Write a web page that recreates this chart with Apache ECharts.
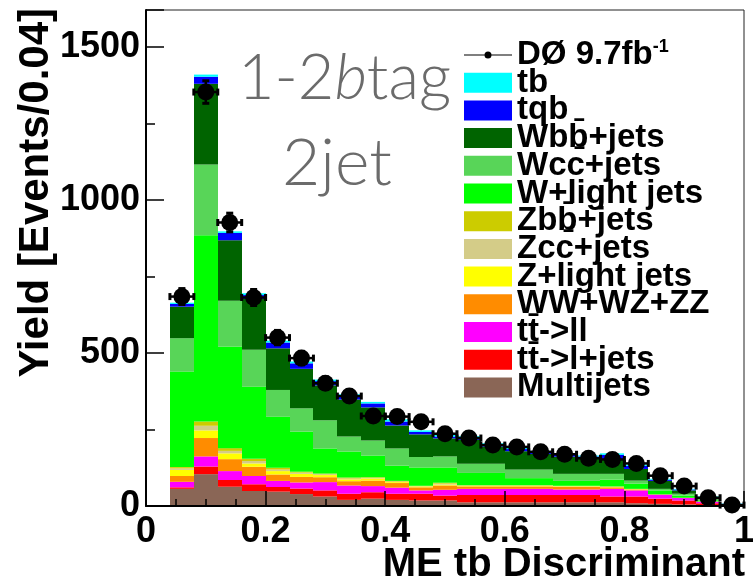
<!DOCTYPE html>
<html>
<head>
<meta charset="utf-8">
<script src="https://cdn.jsdelivr.net/npm/echarts@6/dist/echarts.min.js"></script>
<style>
  html, body { margin: 0; padding: 0; background: #ffffff; }
  #chart { width: 753px; height: 586px; }
</style>
</head>
<body>
<div id="chart"></div>
<script>
// ME tb discriminant, 1-2 b-tag, 2 jets: stacked predictions and observed data
const binCenters = [0.06, 0.10, 0.14, 0.18, 0.22, 0.26, 0.30, 0.34, 0.38, 0.42, 0.46, 0.50,
                    0.54, 0.58, 0.62, 0.66, 0.70, 0.74, 0.78, 0.82, 0.86, 0.90, 0.94, 0.98];
const binWidth = 0.04;

const dataCounts = [684, 1352, 926, 681, 550, 483, 401, 359, 294, 292, 275, 236,
                    222, 199, 193, 177, 169, 156, 152, 139, 99, 65, 27, 3];

// Background and signal yields per bin (bottom of the stack first)
const multijets = [56, 104, 63, 49, 47, 39, 31, 20, 24, 20, 18, 18, 12, 12, 12, 12, 12, 12, 12, 9, 7, 5, 3, 0.5];
const ttLjets   = [5, 25, 22, 22, 15, 18, 20, 20, 21, 20, 22, 16, 24, 24, 24, 24, 24, 24, 19, 22, 17, 13, 6, 1];
const ttLL      = [18, 33, 29, 27, 20, 20, 27, 27, 20, 20, 11, 19, 20, 20, 20, 20, 18, 18, 25, 20, 13, 8, 5, 0.5];
const diboson   = [19, 60, 39, 30, 21, 18, 16, 14, 18, 15, 10, 14, 8, 8, 8, 8, 8, 8, 5, 3, 1, 1, 1, 0];
const zLight    = [20, 25, 19, 11, 11, 10, 7, 6, 7, 3, 3, 3, 2, 2, 2, 2, 2, 2, 1, 1, 0, 0, 0, 0];
const zcc       = [5, 15, 8, 8, 5, 4, 3, 3, 2, 2, 1, 3, 1, 1, 1, 1, 1, 1, 1, 1, 0, 0, 0, 0];
const zbb       = [4, 14, 9, 7, 6, 3, 2, 3, 2, 2, 1, 3, 1, 1, 1, 1, 1, 1, 1, 0, 0, 0, 0, 0];
const wLight    = [312, 608, 332, 236, 167, 131, 82, 85, 71, 50, 60, 50, 40, 40, 23, 23, 16, 16, 22, 17, 13, 7, 4, 1];
const wcc       = [109, 231, 149, 120, 87, 76, 92, 49, 49, 56, 34, 36, 30, 30, 28, 28, 23, 23, 19, 10, 5, 6, 3, 1];
const wbb       = [103, 264, 198, 166, 136, 129, 114, 121, 108, 75, 74, 59, 78, 56, 60, 51, 56, 51, 48, 38, 26, 11, 5, 1];
const tqb       = [9, 23, 24, 13, 19, 18, 14, 10, 13, 13, 8, 6, 8, 7, 7, 7, 6, 6, 14, 10, 4, 3, 2, 2];
const tb        = [4, 7, 5, 6, 6, 6, 5, 7, 5, 7, 5, 5, 4, 4, 4, 3, 3, 3, 5, 4, 3, 2, 2, 1];

const xTickValues = [0, 0.2, 0.4, 0.6, 0.8, 1];
const yTickValues = [0, 500, 1000, 1500];

const dataName = 'DØ 9.7fb-1';
const xTitle = 'ME tb Discriminant';
const yTitle = 'Yield [Events/0.04]';

// Stack components, bottom to top
const components = [
  { name: 'Multijets',       values: multijets, color: '#8a6656' },
  { name: 'tt\u0304->l+jets', values: ttLjets,  color: '#ff0000' },
  { name: 'tt\u0304->ll',    values: ttLL,      color: '#ff00ff' },
  { name: 'WW+WZ+ZZ',        values: diboson,   color: '#ff8c00' },
  { name: 'Z+light jets',    values: zLight,    color: '#ffff00' },
  { name: 'Zcc\u0304+jets',  values: zcc,       color: '#d4cc88' },
  { name: 'Zbb\u0304+jets',  values: zbb,       color: '#cccc00' },
  { name: 'W+light jets',    values: wLight,    color: '#00ff00' },
  { name: 'Wcc\u0304+jets',  values: wcc,       color: '#58d558' },
  { name: 'Wbb\u0304+jets',  values: wbb,       color: '#006400' },
  { name: 'tqb',             values: tqb,       color: '#0000ff' },
  { name: 'tb',              values: tb,        color: '#00ffff' }
];

const FONT = '"Liberation Sans", Arial, Helvetica, sans-serif';
const LABEL_FONT = 'Lato, "Open Sans", sans-serif';

// Cumulative stacking: each rect is [xLow, xHigh, base, top]
const runningTop = binCenters.map(() => 0);
const stackSeries = components.map(comp => {
  const rows = binCenters.map((c, i) => {
    const base = runningTop[i];
    const top = base + comp.values[i];
    runningTop[i] = top;
    return [c - binWidth / 2, c + binWidth / 2, base, top];
  });
  return {
    type: 'custom',
    name: comp.name,
    itemStyle: { color: comp.color },
    z: 2,
    encode: { x: [0, 1], y: [2, 3] },
    data: rows,
    renderItem: function (params, api) {
      const p0 = api.coord([api.value(0), api.value(3)]);
      const p1 = api.coord([api.value(1), api.value(2)]);
      const x0 = Math.round(p0[0]);
      const x1 = Math.round(p1[0]);
      return {
        type: 'rect',
        shape: { x: x0, y: p0[1], width: x1 - x0, height: p1[1] - p0[1] },
        style: { fill: api.visual('color') }
      };
    }
  };
});

// Observed data with statistical errors and bin-width bars
const dataRows = binCenters.map((c, i) => [c, dataCounts[i], Math.sqrt(dataCounts[i])]);
const dataSeries = {
  type: 'custom',
  name: dataName,
  itemStyle: { color: '#000000' },
  z: 5,
  clip: false,
  encode: { x: 0, y: 1 },
  data: dataRows,
  renderItem: function (params, api) {
    const x = api.value(0), y = api.value(1), e = api.value(2);
    const c = api.coord([x, y]);
    const left = api.coord([x - binWidth / 2, y])[0];
    const right = api.coord([x + binWidth / 2, y])[0];
    const top = api.coord([x, y + e])[1];
    const bot = api.coord([x, Math.max(0, y - e)])[1];
    const st = { stroke: '#000', lineWidth: 2.5 };
    const capSt = { stroke: '#000', lineWidth: 3 };
    const cap = 3.5;
    return {
      type: 'group',
      children: [
        { type: 'line', shape: { x1: left, y1: c[1], x2: right, y2: c[1] }, style: st },
        { type: 'line', shape: { x1: c[0], y1: top, x2: c[0], y2: bot }, style: st },
        { type: 'line', shape: { x1: left, y1: c[1] - cap, x2: left, y2: c[1] + cap }, style: capSt },
        { type: 'line', shape: { x1: right, y1: c[1] - cap, x2: right, y2: c[1] + cap }, style: capSt },
        { type: 'line', shape: { x1: c[0] - cap, y1: top, x2: c[0] + cap, y2: top }, style: capSt },
        { type: 'line', shape: { x1: c[0] - cap, y1: bot, x2: c[0] + cap, y2: bot }, style: capSt },
        { type: 'circle', shape: { cx: c[0], cy: c[1], r: 8.5 }, style: { fill: '#000' } }
      ]
    };
  }
};

const legendOrder = [dataName].concat(components.slice().reverse().map(c => c.name));
const legendData = legendOrder.map(n => n === dataName
  ? { name: n, icon: 'path://M0,9.5 L48,9.5 L48,10.5 L0,10.5 Z M20.5,10 A3.5,3.5 0 1 1 27.5,10 A3.5,3.5 0 1 1 20.5,10 Z' }
  : { name: n, icon: 'rect' });

const chart = echarts.init(document.getElementById('chart'), null, { renderer: 'canvas' });

chart.setOption({
  animation: false,
  backgroundColor: '#ffffff',
  grid: {
    left: 146, right: 9, top: 10, bottom: 80,
    show: true, borderColor: '#222', borderWidth: 1,
    containLabel: false, outerBoundsMode: 'none'
  },
  xAxis: {
    type: 'value',
    min: xTickValues[0], max: xTickValues[xTickValues.length - 1], interval: 0.2,
    z: 10,
    axisLine: { show: true, onZero: false, lineStyle: { color: '#000', width: 2 } },
    axisTick: { show: true, inside: true, length: 15, lineStyle: { color: '#000', width: 1.5 } },
    minorTick: { show: true, splitNumber: 4, length: 7, lineStyle: { color: '#000', width: 1.5 } },
    splitLine: { show: false },
    axisLabel: {
      show: true, margin: 8, showMinLabel: true, showMaxLabel: true,
      color: '#000', fontFamily: FONT, fontWeight: 'bold', fontSize: 36,
      formatter: v => String(+v.toFixed(1))
    }
  },
  yAxis: {
    type: 'value',
    min: 0, max: 1620, interval: 500,
    z: 10,
    axisLine: { show: true, lineStyle: { color: '#000', width: 2 } },
    axisTick: { show: true, inside: true, length: 18, lineStyle: { color: '#000', width: 1.5 } },
    minorTick: { show: true, splitNumber: 2, length: 9, lineStyle: { color: '#000', width: 1.5 } },
    splitLine: { show: false },
    axisLabel: {
      show: true, margin: 6, showMinLabel: true, showMaxLabel: false,
      color: '#000', fontFamily: FONT, fontWeight: 'bold', fontSize: 36,
      formatter: v => (yTickValues.indexOf(v) >= 0 ? String(v) : '')
    }
  },
  legend: {
    show: true,
    orient: 'vertical',
    left: 464, top: 38,
    padding: 0,
    itemWidth: 48, itemHeight: 20, itemGap: -5.3,
    selectedMode: false,
    data: legendData,
    formatter: name => (name === dataName ? 'DØ 9.7fb{sup|-1}' : name),
    textStyle: {
      color: '#000', fontFamily: FONT, fontWeight: 'bold', fontSize: 33,
      rich: {
        sup: { color: '#000', fontFamily: FONT, fontWeight: 'bold', fontSize: 18, padding: [0, 0, 16, 0] }
      }
    }
  },
  graphic: [
    // axis titles
    {
      type: 'text', x: 745, y: 565, silent: true,
      style: {
        text: xTitle, fill: '#000', fontFamily: FONT, fontWeight: 'bold', fontSize: 40,
        align: 'right', verticalAlign: 'middle'
      }
    },
    {
      type: 'text', x: 36, y: 8, rotation: Math.PI / 2, silent: true,
      style: {
        text: yTitle, fill: '#000', fontFamily: FONT, fontWeight: 'bold', fontSize: 42,
        align: 'right', verticalAlign: 'middle'
      }
    },
    // selection label
    {
      type: 'text', x: 238, y: 79, silent: true,
      style: {
        text: '1-2{i|b}tag',
        fill: '#6b6b6b', fontFamily: LABEL_FONT, fontWeight: 300, fontSize: 63,
        verticalAlign: 'middle', align: 'left',
        rich: { i: { fill: '#6b6b6b', fontFamily: LABEL_FONT, fontWeight: 300, fontStyle: 'italic', fontSize: 63 } }
      }
    },
    {
      type: 'text', x: 337, y: 164, silent: true,
      style: {
        text: '2jet',
        fill: '#6b6b6b', fontFamily: LABEL_FONT, fontWeight: 300, fontSize: 66,
        verticalAlign: 'middle', align: 'center'
      }
    }
  ],
  series: stackSeries.concat([dataSeries])
});
</script>
</body>
</html>
